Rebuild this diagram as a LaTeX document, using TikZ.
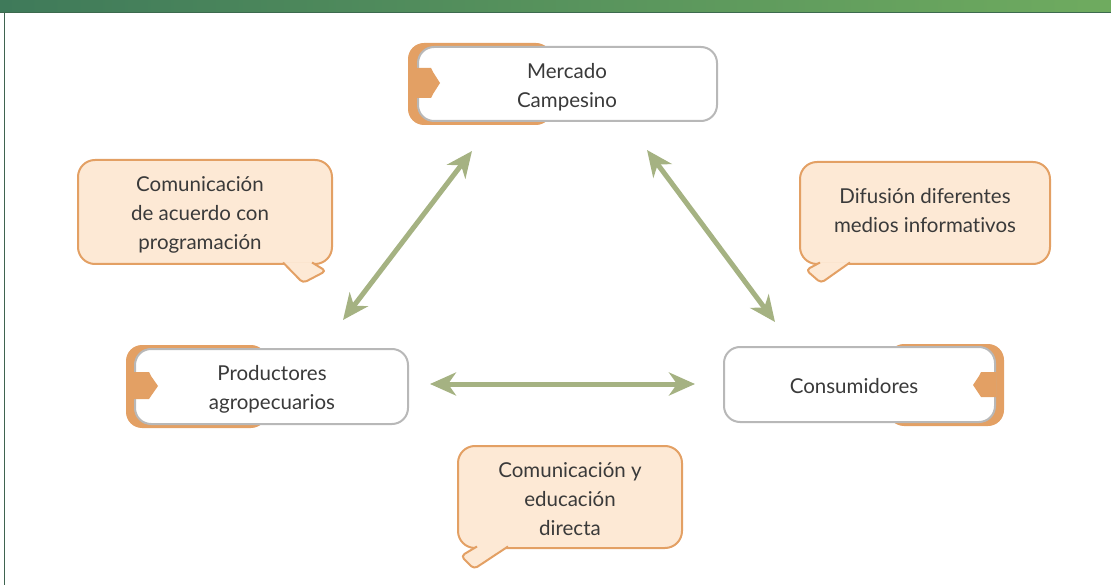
\documentclass[tikz,border=0pt]{standalone}
\usepackage{fontspec}
\setmainfont{Lato}[Ligatures=NoCommon]
\usetikzlibrary{arrows.meta}
\definecolor{barleft}{HTML}{3F7A5A}
\definecolor{barright}{HTML}{6FAB5F}
\definecolor{barline}{HTML}{3C6A4E}
\definecolor{edgegreen}{HTML}{3F6450}
\definecolor{accent}{HTML}{E3A064}
\definecolor{boxgray}{HTML}{B8B8B8}
\definecolor{peach}{HTML}{FDE9D5}
\definecolor{arrowgreen}{HTML}{A5B282}
\definecolor{txt}{HTML}{3A3A3A}
\begin{document}
\begin{tikzpicture}[x=1pt,y=-1pt,
  font=\fontsize{20.5}{29}\selectfont, text=txt,
  entity/.style={draw=boxgray, line width=2pt, fill=white, rounded corners=16pt, inner sep=0pt},
  backing/.style={fill=accent, rounded corners=16pt},
  tabshape/.style={fill=accent},
  bubble/.style={draw=accent, line width=2pt, fill=peach, rounded corners=17pt, inner sep=0pt},
  label/.style={align=center, inner sep=0pt},
  tail/.style={draw=accent, line width=2pt, fill=peach, rounded corners=4pt, line join=round},
  link/.style={draw=arrowgreen, line width=5pt, {Stealth[length=26pt,width=23pt,inset=8pt]}-{Stealth[length=26pt,width=23pt,inset=8pt]}}
]
\useasboundingbox (0,0) rectangle (1111,585);
% header bar and frame
\shade[left color=barleft, right color=barright] (0,0) rectangle (1111,12);
\draw[barline, line width=1.2pt] (0,12.5) -- (1111,12.5);
\draw[edgegreen, line width=1.2pt] (4.5,12) -- (4.5,585);

% Mercado Campesino
\path[backing] (408,43) rectangle (552,125);
\node[entity, minimum width=299pt, minimum height=74pt] (mercado) at (567.5,84) {};
\node[label] (mercadotext) at (567,87) {Mercado\\Campesino};
\path[tabshape] (417,68) -- (431,68) -- (433,72) -- (440,83) -- (433,94) -- (431,98) -- (417,98) -- cycle;

% Productores
\path[backing] (126,345) rectangle (267,428);
\node[entity, minimum width=273pt, minimum height=75pt] (prod) at (271.5,386.5) {};
\node[label] (prodtext) at (272,389) {Productores\\agropecuarios};
\path[tabshape] (134,372) -- (149,372) -- (151,376) -- (158,386) -- (151,396) -- (149,399) -- (134,399) -- cycle;

% Consumidores
\path[backing] (888,344) rectangle (1004,426);
\node[entity, minimum width=271pt, minimum height=75pt] (cons) at (859.5,384.5) {};
\node[label] (constext) at (854,386) {Consumidores};
\path[tabshape] (996,372) -- (981,372) -- (979,376) -- (973,385) -- (979,394) -- (981,397) -- (996,397) -- cycle;

% bubbles
\node[bubble, minimum width=254pt, minimum height=104pt] (b1) at (205,212) {};
\node[label] (b1text) at (200,215) {Comunicación\\de acuerdo con\\programación};
\path[tail] (283,262.5) -- (303,283) -- (326,271) -- (312,262.5);

\node[bubble, minimum width=250pt, minimum height=102pt] (b2) at (925,213) {};
\node[label] (b2text) at (925,211) {Difusión diferentes\\medios informativos};
\path[tail] (850,262.5) -- (821,283) -- (806,270) -- (820,262.5);

\node[bubble, minimum width=224pt, minimum height=102pt] (b3) at (570,497) {};
\node[label] (b3text) at (570,499) {Comunicación y\\educación\\directa};
\path[tail] (508,546.5) -- (474,569) -- (461,556) -- (477,546.5);

% connectors
\coordinate (m1) at (472,151);
\coordinate (p1) at (343,320);
\coordinate (m2) at (647,150);
\coordinate (c2) at (775,322);
\coordinate (p3) at (430,384);
\coordinate (c3) at (695,384);
\draw[link] (p1) -- (m1);
\draw[link] (m2) -- (c2);
\draw[link] (p3) -- (c3);
\end{tikzpicture}
\end{document}
